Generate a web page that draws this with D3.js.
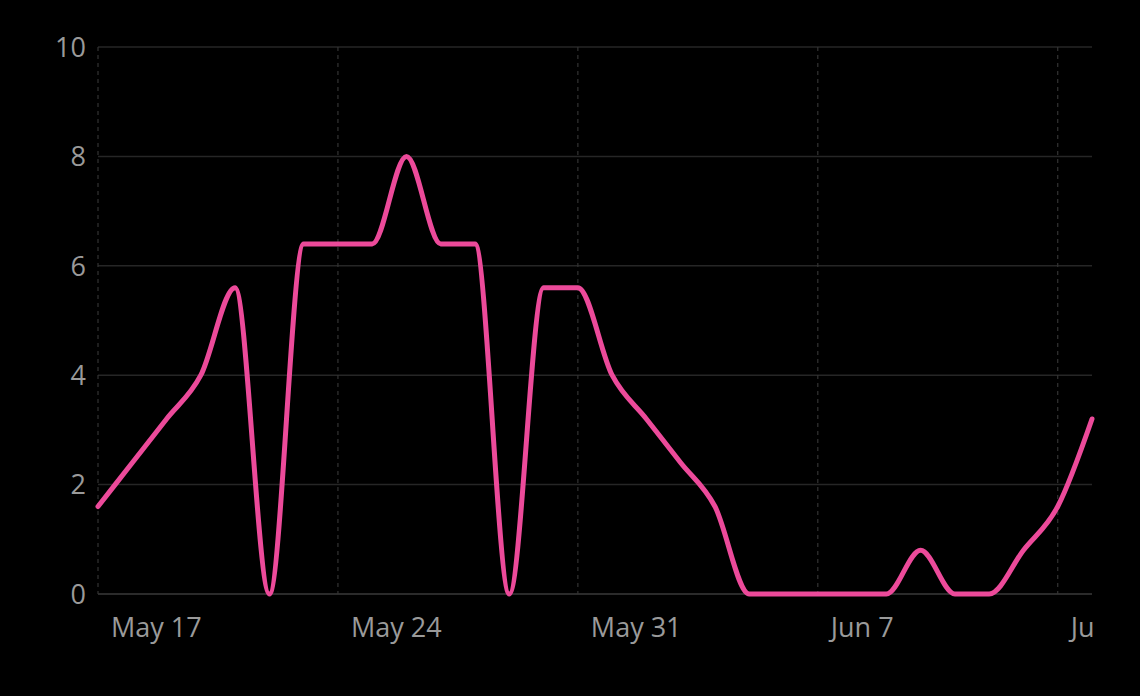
<!DOCTYPE html>
<html><head><meta charset="utf-8">
<script src="https://cdn.jsdelivr.net/npm/d3@7"></script>
<style>html,body{margin:0;background:#000;}svg{display:block;}</style>
</head><body>
<svg id="c" width="1140" height="696"></svg>
<script>
const startDate = "2024-05-17";
const values = [1.6,2.4,3.2,4,5.6,0,6.4,6.4,6.4,8,6.4,6.4,0,5.6,5.6,4,3.2,2.4,1.6,0,0,0,0,0,0.8,0,0,0.8,1.6,3.2];
const yTicks = [0,2,4,6,8,10];
const xTickLabels = ["May 17","May 24","May 31","Jun 7","Jun 14"];

const parse = d3.timeParse("%Y-%m-%d");
const s = parse(startDate);
const data = values.map((v,i)=>({d:d3.timeDay.offset(s,i), v}));
const xTicks = xTickLabels.map((_,i)=>d3.timeDay.offset(s,i*7));

const svg = d3.select("#c");
const L=98,R=1092,T=47,B=594;
const x = d3.scaleTime().domain([s, d3.timeDay.offset(s,29)]).range([L,R]);
const y = d3.scaleLinear().domain([0,10]).range([B,T]);
const font = "'Open Sans', Roboto, sans-serif";

svg.append("g").selectAll("line").data(yTicks).join("line")
  .attr("x1",L).attr("x2",R).attr("y1",d=>y(d)).attr("y2",d=>y(d))
  .attr("stroke",d=>d===0?"#3a3a3a":"#262626").attr("stroke-width",1.5);
svg.append("g").selectAll("line").data(xTicks).join("line")
  .attr("x1",d=>x(d)).attr("x2",d=>x(d)).attr("y1",T).attr("y2",B)
  .attr("stroke","#333").attr("stroke-width",1.2).attr("stroke-dasharray","4,4");
svg.append("g").selectAll("text").data(yTicks).join("text")
  .attr("x",86).attr("y",d=>y(d)).attr("dy","0.36em").attr("text-anchor","end")
  .attr("fill","#9a9a9a").attr("font-family",font).attr("font-size",27)
  .text(d=>d);
svg.append("clipPath").attr("id","cl").append("rect").attr("x",0).attr("y",0).attr("width",R+2).attr("height",696);
svg.append("g").attr("clip-path","url(#cl)").selectAll("text").data(xTicks).join("text")
  .attr("x",d=>x(d)+13).attr("y",637).attr("fill","#9a9a9a")
  .attr("font-family",font).attr("font-size",27)
  .text((d,i)=>xTickLabels[i]);

svg.append("path").datum(data)
  .attr("d", d3.line().x(d=>x(d.d)).y(d=>y(d.v)).curve(d3.curveMonotoneX))
  .attr("fill","none").attr("stroke","#ec4a9a").attr("stroke-width",5)
  .attr("stroke-linejoin","round").attr("stroke-linecap","round");
</script>
</body></html>
